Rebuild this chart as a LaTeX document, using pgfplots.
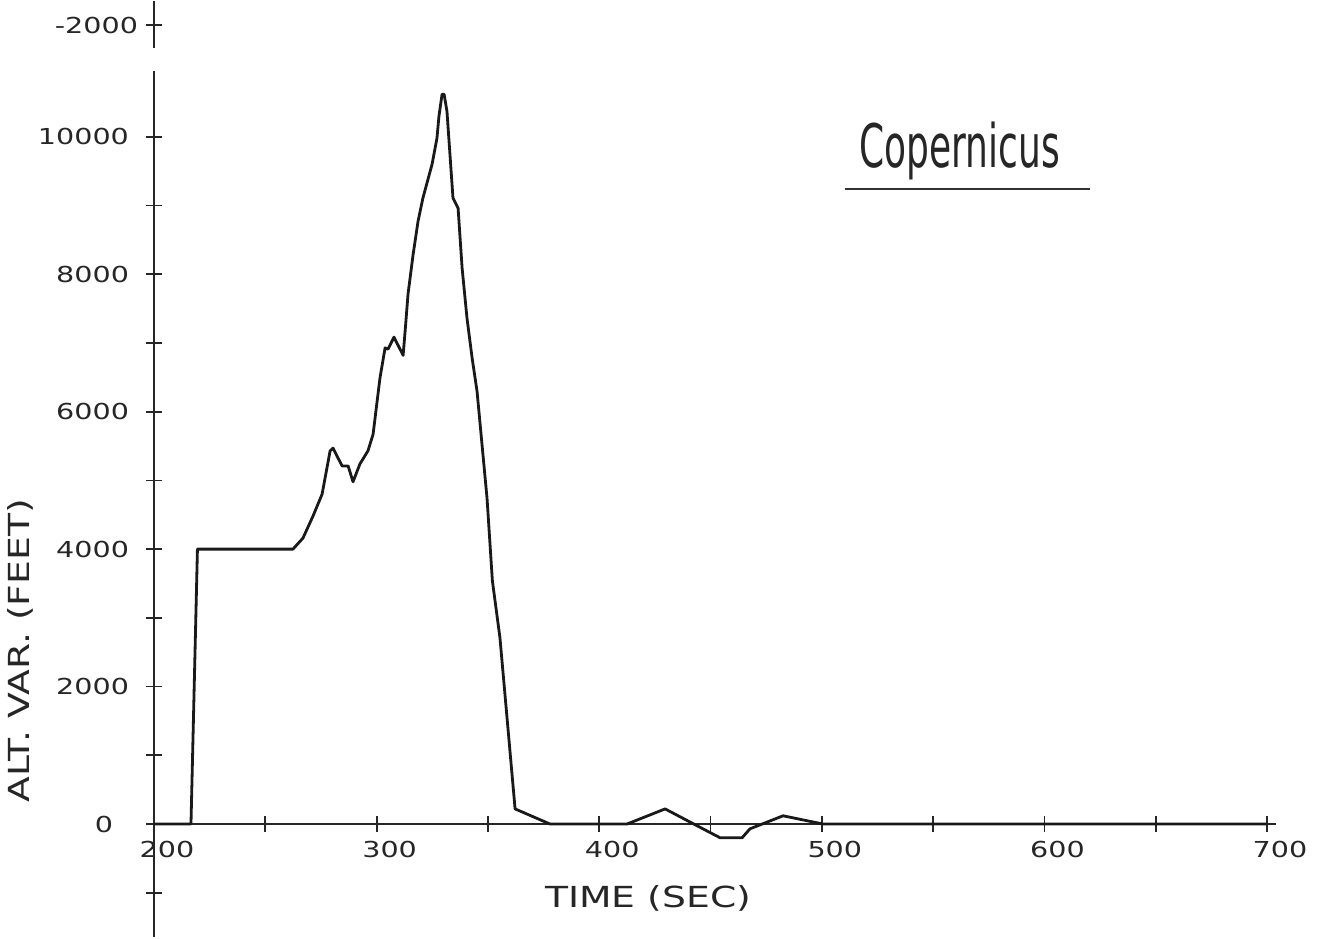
\documentclass[border=0pt]{standalone}
\usepackage{fontspec}
\setmainfont{DejaVu Sans}[FakeStretch=1.3]
\newfontfamily\handfont{DejaVu Sans}[FakeStretch=0.6]
\usepackage{pgfplots}
\pgfplotsset{compat=1.18}

% altitude variation (feet) against time (sec)
\pgfplotstableread{
t     alt
200   0
216.6 0
219.5 4000
262.4 4000
266.9 4160
271.4 4480
275.5 4800
279.1 5430
280.4 5470
284.5 5210
287.2 5210
289.4 4980
292.5 5240
296.1 5430
298.4 5670
301.5 6490
303.8 6930
305.1 6910
307.8 7085
311.9 6820
312.8 7170
314.1 7710
316.4 8290
318.6 8770
320.8 9110
324.9 9600
327.1 9980
328.0 10300
329.4 10620
330.3 10620
331.6 10370
334.3 9110
336.6 8960
338.4 8090
340.6 7360
342.9 6780
345.1 6300
349.6 4740
352.0 3540
355.4 2710
362.2 220
377.9 0
412.5 0
429.6 220
446.6 -70
454.3 -200
464.2 -200
467.7 -70
482.6 120
500.5 0
700   0
}\altdata

\begin{document}
\begin{tikzpicture}
\begin{axis}[
    scale only axis,
    width=561pt, height=468pt,
    xmin=200, xmax=704,
    ymin=-1644, ymax=11975,
    axis x line=middle,
    axis y line=left,
    axis line style={-, line width=1.1pt, black!85},
    hide obscured x ticks=false,
    hide obscured y ticks=false,
    scaled y ticks=false,
    scaled x ticks=false,
    clip=false,
    xtick={200,250,...,700},
    xticklabels={200,,300,,400,,500,,600,,700},
    ytick={-1000,0,1000,...,10000},
    yticklabels={,0\kern8pt,,2000,,4000,,6000,,8000,,10000},
    extra y ticks={11625},
    extra y tick labels={-2000},
    extra y tick style={yticklabel style={xshift=4.5pt}},
    tick align=center,
    major tick length=8pt,
    tick style={line width=0.9pt, black!85},
    tick label style={font=\fontsize{11}{11}\selectfont, text=black!85},
    xticklabel style={anchor=north, xshift=6.5pt, yshift=-1pt},
    yticklabel style={anchor=east, xshift=-5pt},
    xlabel={TIME (SEC)},
    ylabel={ALT. VAR. (FEET)},
    label style={font=\fontsize{14.5}{14.5}\selectfont, text=black!85},
    xlabel style={at={(axis cs:422,-1077)}, anchor=center},
    ylabel style={at={(axis cs:139.8,2520)}, anchor=center, rotate=0},
]
\addplot[line width=1.4pt, black!90, line join=round] table[x=t, y=alt] {\altdata};
% gap in the plotter's y axis line near the top
\draw[white, line width=4pt] (axis cs:200,10955) -- (axis cs:200,11290);
\node[font=\handfont\fontsize{30}{30}\selectfont, text=black!85, anchor=center]
    at (axis cs:562,9790) {Copernicus};
\draw[line width=0.8pt, black!80] (axis cs:510.4,9240) -- (axis cs:620.5,9240);
\path (axis cs:130.8,0) -- (axis cs:724.7,0);
\end{axis}
\end{tikzpicture}
\end{document}
